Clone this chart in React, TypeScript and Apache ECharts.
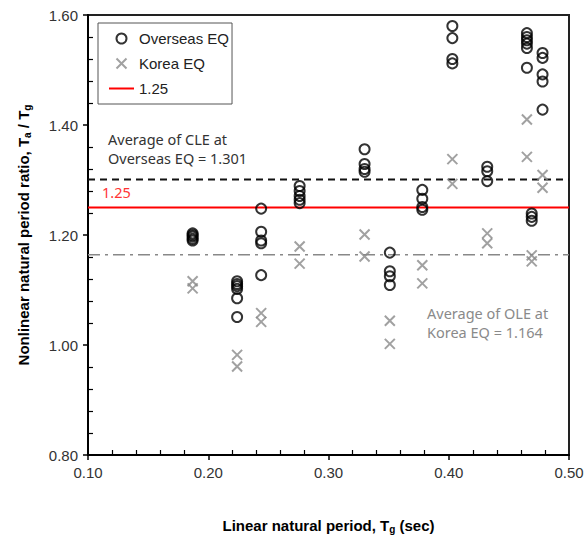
import React, { useEffect, useRef } from "react";
import * as echarts from "echarts";

// ---- data ----
const overseasEQ: [number, number][] = [
  [0.187, 1.203], [0.187, 1.2], [0.187, 1.197], [0.187, 1.193], [0.187, 1.19],
  [0.224, 1.116], [0.224, 1.111], [0.224, 1.107], [0.224, 1.102], [0.224, 1.085], [0.224, 1.051],
  [0.244, 1.248], [0.244, 1.206], [0.244, 1.19], [0.244, 1.185], [0.244, 1.127],
  [0.276, 1.289], [0.276, 1.28], [0.276, 1.271], [0.276, 1.264], [0.276, 1.258],
  [0.33, 1.356], [0.33, 1.329], [0.33, 1.32], [0.33, 1.315],
  [0.351, 1.168], [0.351, 1.134], [0.351, 1.125], [0.351, 1.109],
  [0.378, 1.282], [0.378, 1.266], [0.378, 1.251], [0.378, 1.246],
  [0.403, 1.58], [0.403, 1.558], [0.403, 1.52], [0.403, 1.512],
  [0.432, 1.324], [0.432, 1.316], [0.432, 1.298],
  [0.465, 1.567], [0.465, 1.56], [0.465, 1.554], [0.465, 1.548], [0.465, 1.54], [0.465, 1.504],
  [0.469, 1.239], [0.469, 1.233], [0.469, 1.226],
  [0.478, 1.531], [0.478, 1.522], [0.478, 1.492], [0.478, 1.479], [0.478, 1.428],
];

const koreaEQ: [number, number][] = [
  [0.187, 1.116], [0.187, 1.103],
  [0.224, 0.982], [0.224, 0.961],
  [0.244, 1.058], [0.244, 1.042],
  [0.276, 1.179], [0.276, 1.148],
  [0.33, 1.201], [0.33, 1.161],
  [0.351, 1.044], [0.351, 1.002],
  [0.378, 1.145], [0.378, 1.112],
  [0.403, 1.338], [0.403, 1.293],
  [0.432, 1.203], [0.432, 1.185],
  [0.465, 1.41], [0.465, 1.342],
  [0.469, 1.163], [0.469, 1.152],
  [0.478, 1.309], [0.478, 1.286],
];

const xRange = [0.1, 0.5];
const yRange = [0.8, 1.6];
const criterion = 1.25;
const cleAverage = 1.301;
const oleAverage = 1.164;

const seriesNames = ["Overseas EQ", "Korea EQ", "1.25"];
const cleText = ["Average of CLE at", "Overseas EQ = 1.301"];
const oleText = ["Average of OLE at", "Korea EQ = 1.164"];

const CROSS = "path://M0,0L10,10M10,0L0,10";

export default function App() {
  const ref = useRef<HTMLDivElement>(null);

  useEffect(() => {
    if (!ref.current) return;
    const chart = echarts.init(ref.current, undefined, { renderer: "svg" });
    const tickFont = {
      fontFamily: "Liberation Sans, Arial, sans-serif",
      fontSize: 15,
      color: "#333",
    };
    const nameRich = {
      m: { fontFamily: "Liberation Sans, Arial, sans-serif", fontSize: 15, fontWeight: "bold" as const, color: "#000", lineHeight: 18 },
      s: { fontFamily: "Liberation Sans, Arial, sans-serif", fontSize: 10, fontWeight: "bold" as const, color: "#000", lineHeight: 10, verticalAlign: "bottom" as const },
    };
    const hLine = (y: number) => xRange.map((x) => [x, y]);
    const minorAxisCommon = {
      type: "value" as const,
      axisLine: { show: false, onZero: false },
      axisTick: { show: true, inside: true, length: 0, lineStyle: { width: 0, color: "transparent" } },
      minorTick: { show: true, splitNumber: 5, length: 5, lineStyle: { color: "#000", width: 1.2 } },
      axisLabel: { show: false },
      splitLine: { show: false },
      minorSplitLine: { show: false },
    };

    chart.setOption({
      animation: false,
      grid: {
        left: 88,
        right: 18,
        top: 15,
        bottom: 82,
        show: true,
        borderColor: "#222",
        borderWidth: 2,
      },
      legend: {
        orient: "vertical",
        left: 98,
        top: 23,
        data: [
          { name: seriesNames[0] },
          { name: seriesNames[1] },
          { name: seriesNames[2], itemStyle: { color: "transparent", borderColor: "transparent", borderWidth: 0 } },
        ],
        itemWidth: 25,
        itemHeight: 10,
        itemGap: 10,
        padding: [8, 3, 8, 10],
        borderColor: "#555",
        borderWidth: 1,
        textStyle: { fontFamily: "Liberation Sans, Arial, sans-serif", fontSize: 15, color: "#222" },
      },
      xAxis: [
        {
          type: "value",
          min: xRange[0],
          max: xRange[1],
          interval: 0.1,
          axisLine: { show: true, onZero: false, lineStyle: { color: "#000", width: 2 } },
          axisTick: { show: true, length: 5, lineStyle: { color: "#000", width: 1.5 } },
          axisLabel: { ...tickFont, margin: 10, formatter: (v: number) => v.toFixed(2) },
          splitLine: { show: false },
          name: "{m|Linear natural period, T}{s|g}{m| (sec)}",
          nameLocation: "middle",
          nameGap: 61,
          nameTextStyle: { rich: nameRich },
        },
        {
          ...minorAxisCommon,
          min: xRange[0],
          max: xRange[1],
          interval: 0.1,
          position: "bottom",
        },
      ],
      yAxis: [
        {
          type: "value",
          min: yRange[0],
          max: yRange[1],
          interval: 0.2,
          axisLine: { show: true, onZero: false, lineStyle: { color: "#000", width: 2 } },
          axisTick: { show: true, length: 5, lineStyle: { color: "#000", width: 1.5 } },
          axisLabel: { ...tickFont, margin: 10, formatter: (v: number) => v.toFixed(2) },
          splitLine: { show: false },
          name: "{m|Nonlinear natural period ratio, T}{s|a}{m| / T}{s|g}",
          nameLocation: "middle",
          nameGap: 56,
          nameRotate: 90,
          nameTextStyle: { rich: nameRich },
        },
        {
          ...minorAxisCommon,
          min: yRange[0],
          max: yRange[1],
          interval: 0.2,
          position: "left",
        },
      ],
      series: [
        {
          name: "CLE average",
          type: "line",
          data: hLine(cleAverage),
          symbol: "none",
          lineStyle: { color: "#111", width: 2, type: [7, 5] },
          z: 1,
        },
        {
          name: "OLE average",
          type: "line",
          data: hLine(oleAverage),
          symbol: "none",
          lineStyle: { color: "#888", width: 1.5, type: [12, 5, 3, 5] },
          z: 1,
        },
        {
          name: seriesNames[2],
          type: "line",
          data: hLine(criterion),
          symbol: "none",
          lineStyle: { color: "#ff0000", width: 2 },
          itemStyle: { color: "#ff0000" },
          z: 1,
        },
        {
          name: seriesNames[1],
          type: "scatter",
          data: koreaEQ,
          symbol: CROSS,
          symbolSize: 10,
          symbolKeepAspect: true,
          itemStyle: { color: "none", borderColor: "#8a8a8a", borderWidth: 2 },
          z: 3,
        },
        {
          name: seriesNames[0],
          type: "scatter",
          data: overseasEQ,
          symbol: "circle",
          symbolSize: 10,
          symbolKeepAspect: true,
          itemStyle: { color: "none", borderColor: "#000", borderWidth: 2 },
          z: 4,
        },
      ],
      graphic: [
        {
          type: "text",
          left: 108,
          top: 129,
          style: {
            text: cleText.join("\n"),
            fontFamily: "Noto Sans, Open Sans, sans-serif",
            fontSize: 14.5,
            lineHeight: 19,
            fill: "#333",
          },
        },
        {
          type: "text",
          left: 102,
          top: 184,
          style: {
            text: "1.25",
            fontFamily: "Noto Sans, Open Sans, sans-serif",
            fontSize: 14.5,
            fill: "#ff3333",
          },
        },
        {
          type: "text",
          left: 427,
          top: 303,
          style: {
            text: oleText.join("\n"),
            fontFamily: "Noto Sans, Open Sans, sans-serif",
            fontSize: 14.5,
            lineHeight: 19,
            fill: "#8a8a8a",
          },
        },
      ],
    });
    return () => chart.dispose();
  }, []);

  return (
    <div
      ref={ref}
      style={{ position: "fixed", left: 0, top: 0, width: 587, height: 539, background: "#fff" }}
    />
  );
}
